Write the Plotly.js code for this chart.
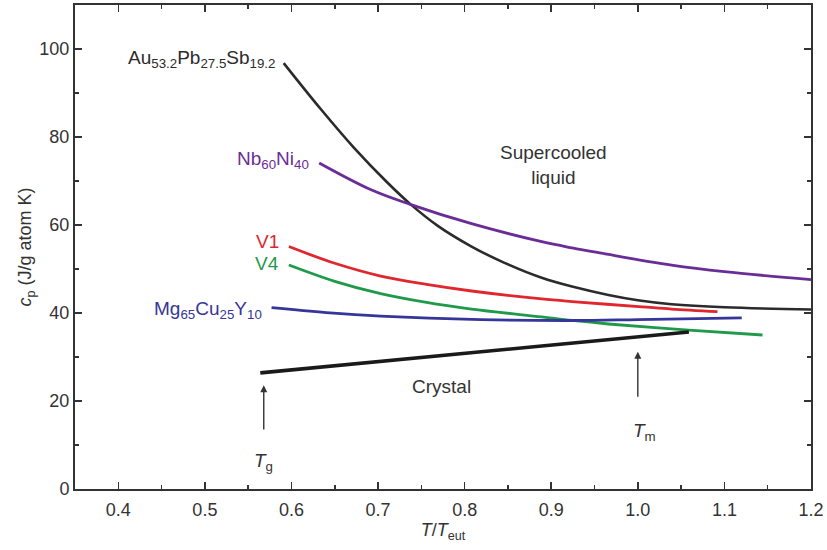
<!DOCTYPE html>
<html>
<head>
<meta charset="utf-8">
<script src="https://cdn.plot.ly/plotly-3.0.1.min.js"></script>
<style>html,body{margin:0;padding:0;background:#fff;}#chart{width:827px;height:550px;}</style>
</head>
<body>
<div id="chart"></div>
<script>
// Data (T/Teut vs cp)
const auX = [0.591, 0.634, 0.672, 0.711, 0.737, 0.769, 0.808, 0.846, 0.889, 0.924, 0.966, 1.0, 1.039, 1.1, 1.2];
const auY = [96.8, 86.3, 77.6, 69.6, 64.8, 59.8, 55.1, 51.4, 48.0, 46.0, 44.1, 42.9, 42.0, 41.3, 40.8];

const nbX = [0.632, 0.692, 0.737, 0.808, 0.889, 0.924, 0.958, 1.039, 1.1, 1.2];
const nbY = [74.1, 68.0, 64.7, 60.3, 56.2, 54.8, 53.6, 50.9, 49.4, 47.6];

const v1X = [0.597, 0.65, 0.703, 0.756, 0.808, 0.889, 0.924, 1.005, 1.039, 1.092];
const v1Y = [55.1, 51.3, 48.4, 46.5, 45.0, 43.2, 42.6, 41.4, 40.9, 40.3];

const v4X = [0.597, 0.65, 0.703, 0.756, 0.808, 0.889, 0.924, 0.966, 1.059, 1.144];
const v4Y = [50.9, 47.2, 44.4, 42.4, 40.9, 39.1, 38.3, 37.5, 36.1, 35.0];

const mgX = [0.577, 0.64, 0.703, 0.819, 0.924, 1.0, 1.12];
const mgY = [41.2, 40.1, 39.3, 38.5, 38.3, 38.5, 38.9];

const crX = [0.564, 0.889, 1.059];
const crY = [26.4, 32.5, 35.7];

const xTicks = [0.4, 0.5, 0.6, 0.7, 0.8, 0.9, 1.0, 1.1, 1.2];
const xTickText = ["0.4", "0.5", "0.6", "0.7", "0.8", "0.9", "1.0", "1.1", "1.2"];
const yTicks = [0, 20, 40, 60, 80, 100];

const FONT = "Liberation Sans, Arial, Helvetica, sans-serif";
const AX = "#333";

function line(x, y, color, w) {
  return {x: x, y: y, type: "scatter", mode: "lines", line: {color: color, width: w, shape: "spline", smoothing: 1}, hoverinfo: "skip"};
}

const traces = [
  line(auX, auY, "#2b2b2b", 2.6),
  line(nbX, nbY, "#6a2d96", 2.8),
  line(v1X, v1Y, "#e0262f", 2.8),
  line(v4X, v4Y, "#1f9a4a", 2.8),
  line(mgX, mgY, "#35359a", 2.8),
  line(crX, crY, "#1a1a1a", 3.6)
];

function lab(text, x, y, color, xanchor) {
  return {text: text, x: x, y: y, xref: "x", yref: "y", showarrow: false, xanchor: xanchor || "right", yanchor: "middle", font: {family: FONT, size: 19, color: color}};
}

const annotations = [
  lab("Au<sub>53.2</sub>Pb<sub>27.5</sub>Sb<sub>19.2</sub>", 0.583, 97.8, "#2b2b2b"),
  lab("Nb<sub>60</sub>Ni<sub>40</sub>", 0.622, 74.8, "#6a2d96"),
  lab("V1", 0.588, 56.2, "#e0262f"),
  lab("V4", 0.588, 51.3, "#1f9a4a"),
  lab("Mg<sub>65</sub>Cu<sub>25</sub>Y<sub>10</sub>", 0.568, 40.6, "#35359a"),
  {text: "Supercooled<br>liquid", x: 0.903, y: 73.6, xref: "x", yref: "y", showarrow: false, xanchor: "center", yanchor: "middle", font: {family: FONT, size: 19, color: "#333"}},
  lab("Crystal", 0.773, 23.2, "#333", "center"),
  {text: "", x: 0.568, y: 23.6, ax: 0.568, ay: 13.2, xref: "x", yref: "y", axref: "x", ayref: "y", showarrow: true, arrowhead: 2, arrowsize: 1, arrowwidth: 1.4, arrowcolor: "#333"},
  {text: "", x: 1.0, y: 31.2, ax: 1.0, ay: 20.6, xref: "x", yref: "y", axref: "x", ayref: "y", showarrow: true, arrowhead: 2, arrowsize: 1, arrowwidth: 1.4, arrowcolor: "#333"},
  lab("<i>T</i><sub>g</sub>", 0.568, 6.2, "#333", "center"),
  lab("<i>T</i><sub>m</sub>", 1.008, 13.0, "#333", "center")
];

const layout = {
  width: 827, height: 550,
  margin: {l: 75, r: 16, t: 5, b: 61},
  paper_bgcolor: "#fff", plot_bgcolor: "#fff",
  showlegend: false,
  font: {family: FONT, size: 18, color: AX},
  xaxis: {
    range: [0.35, 1.2], tickvals: xTicks, ticktext: xTickText,
    ticks: "inside", ticklen: 7, tickwidth: 1.5, tickcolor: AX,
    showline: true, linecolor: AX, linewidth: 2, mirror: "ticks",
    showgrid: false, zeroline: false,
    minor: {dtick: 0.05, tick0: 0.35, ticks: "inside", ticklen: 4, tickwidth: 1.5, tickcolor: AX, showgrid: false},
    tickfont: {family: FONT, size: 18, color: AX},
    ticklabelstandoff: 3,
    title: {text: "<i>T</i>/<i>T</i><sub>eut</sub>", font: {family: FONT, size: 18, color: AX}, standoff: 5}
  },
  yaxis: {
    range: [0, 110], tickvals: yTicks,
    ticks: "inside", ticklen: 7, tickwidth: 1.5, tickcolor: AX,
    showline: true, linecolor: AX, linewidth: 2, mirror: "ticks",
    showgrid: false, zeroline: false,
    minor: {dtick: 10, ticks: "inside", ticklen: 4, tickwidth: 1.5, tickcolor: AX, showgrid: false},
    tickfont: {family: FONT, size: 18, color: AX},
    title: {text: "<i>c</i><sub>p</sub> (J/g atom K)", font: {family: FONT, size: 18, color: AX}, standoff: 3}
  },
  annotations: annotations
};

Plotly.newPlot("chart", traces, layout, {staticPlot: true, displayModeBar: false});
</script>
</body>
</html>
